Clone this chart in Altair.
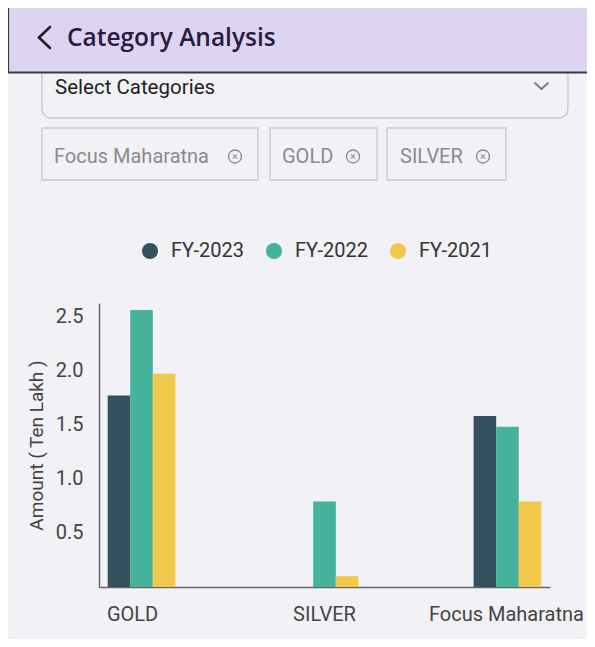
import altair as alt
import pandas as pd

# ---------------- data ----------------
categories = ["GOLD", "SILVER", "Focus Maharatna"]
series = ["FY-2023", "FY-2022", "FY-2021"]
fy2023 = [1.77, 0.0, 1.58]
fy2022 = [2.56, 0.79, 1.48]
fy2021 = [1.97, 0.10, 0.79]
colors = ["#34505e", "#45b39c", "#f2c84a"]
chips = ["Focus Maharatna", "GOLD", "SILVER"]
y_ticks = [0.5, 1.0, 1.5, 2.0, 2.5]

rows = []
for s, vals in zip(series, [fy2023, fy2022, fy2021]):
    for c, v in zip(categories, vals):
        rows.append({"category": c, "year": s, "amount": v})
df = pd.DataFrame(rows)

BG = "#f2f1f6"
# plot-area origin sits at page pixel (99, 303)
def X(px):
    return px - 99
def Y(py):
    return py - 303

bars = alt.Chart(df).mark_bar().encode(
    x=alt.X("category:N", sort=categories,
            scale=alt.Scale(paddingInner=0.63, paddingOuter=0.0475),
            axis=alt.Axis(title=None, labelAngle=0, ticks=False, tickSize=0,
                          domainColor="#666666", domainWidth=1.5,
                          labelFont="Roboto", labelFontSize=20, labelColor="#444444",
                          labelBaseline="alphabetic", labelPadding=33,
                          labelOffset={"condition": [
                              {"test": "datum.value == 'GOLD'", "value": -9},
                              {"test": "datum.value == 'Focus Maharatna'", "value": -1}],
                              "value": 0})),
    xOffset=alt.XOffset("year:N", sort=series,
                        scale=alt.Scale(paddingInner=0, paddingOuter=0)),
    y=alt.Y("amount:Q", scale=alt.Scale(domain=[0, 2.624], nice=False, zero=True),
            axis=alt.Axis(values=y_ticks, format=".1f", grid=False, ticks=False, tickSize=0,
                          domainColor="#666666", domainWidth=1.5,
                          labelFont="Roboto", labelFontSize=20, labelColor="#444444",
                          labelPadding=16,
                          title="Amount ( Ten Lakh )", titleFont="Roboto", titleFontSize=19,
                          titleFontWeight="normal", titleColor="#444444",
                          titleAngle=270, titleAlign="center", titleBaseline="alphabetic",
                          titleX=-57, titleY=142)),
    color=alt.Color("year:N", sort=series,
                    scale=alt.Scale(domain=series, range=colors),
                    legend=alt.Legend(title=None, orient="none", legendX=41, legendY=-62,
                                      direction="horizontal", symbolType="circle",
                                      symbolSize=256, symbolStrokeWidth=0, symbolOpacity=1,
                                      labelFont="Roboto", labelFontSize=20, labelColor="#333333",
                                      labelOffset=11, columnPadding=19, padding=0)),
)

one = alt.Data(values=[{"k": 0}])

def rect(x1, x2, y1, y2, **kw):
    return alt.Chart(one).mark_rect(**kw).encode(
        x=alt.value(X(x1)), x2=alt.value(X(x2)), y=alt.value(Y(y1)), y2=alt.value(Y(y2)))

def seg(x1, y1, x2, y2, **kw):
    return alt.Chart(one).mark_rule(**kw).encode(
        x=alt.value(X(x1)), x2=alt.value(X(x2)), y=alt.value(Y(y1)), y2=alt.value(Y(y2)))

def txt(t, x, y, **kw):
    return alt.Chart(one).mark_text(text=t, **kw).encode(x=alt.value(X(x)), y=alt.value(Y(y)))

layers = [bars]

# dropdown box (partly hidden under header)
layers.append(rect(42, 568, 40, 118, fill=BG, stroke="#c6c6cb", strokeWidth=1.3, cornerRadius=9))
layers.append(txt("Select Categories", 55, 94, align="left", baseline="alphabetic",
                  font="Roboto", fontSize=20.5, color="#1f1f1f"))
layers.append(seg(535, 83, 541.5, 89, color="#7a7a7a", strokeWidth=1.8, strokeCap="round"))
layers.append(seg(541.5, 89, 548, 83, color="#7a7a7a", strokeWidth=1.8, strokeCap="round"))

# header
layers.append(rect(8, 600, 0, 72, fill="#ddd4f1"))
layers.append(seg(8, 72.5, 600, 72.5, color="#3a3a3a", strokeWidth=1.8))
layers.append(seg(8.5, 8, 8.5, 72.5, color="#3a3a3a", strokeWidth=1.2))
layers.append(seg(50, 27, 39, 37.5, color="#222222", strokeWidth=2.6, strokeCap="round"))
layers.append(seg(39, 37.5, 50, 48, color="#222222", strokeWidth=2.6, strokeCap="round"))
layers.append(txt("Category Analysis", 67, 46, align="left", baseline="alphabetic",
                  font="Open Sans", fontWeight=600, fontSize=24.5, color="#2a1a42"))

# chips
chip_box = [(42, 258), (270, 377), (387, 506)]
chip_text_x = [54, 282, 400]
chip_icon_x = [235, 353, 483]
for label, (a, b), tx, ix in zip(chips, chip_box, chip_text_x, chip_icon_x):
    layers.append(rect(a, b, 128, 180, fill=BG, stroke="#c9c9cd", strokeWidth=1.3))
    layers.append(txt(label, tx, 163, align="left", baseline="alphabetic",
                      font="Roboto", fontSize=20, color="#8a8a8a"))
    layers.append(alt.Chart(one).mark_point(shape="circle", filled=False, size=169,
                                            stroke="#8a8a8a", strokeWidth=1.3, opacity=1)
                  .encode(x=alt.value(X(ix)), y=alt.value(Y(156.5))))
    layers.append(txt("×", ix, 157, align="center", baseline="middle",
                      font="Roboto", fontSize=11, color="#8a8a8a"))

chart = alt.layer(*layers).properties(
    width=451, height=284,
    autosize=alt.AutoSizeParams(type="none"),
    padding={"left": 91, "top": 295, "right": 37, "bottom": 52},
).configure(background=BG).configure_view(stroke=None)

chart.save("out.html", embed_options={"renderer": "svg", "actions": False})
